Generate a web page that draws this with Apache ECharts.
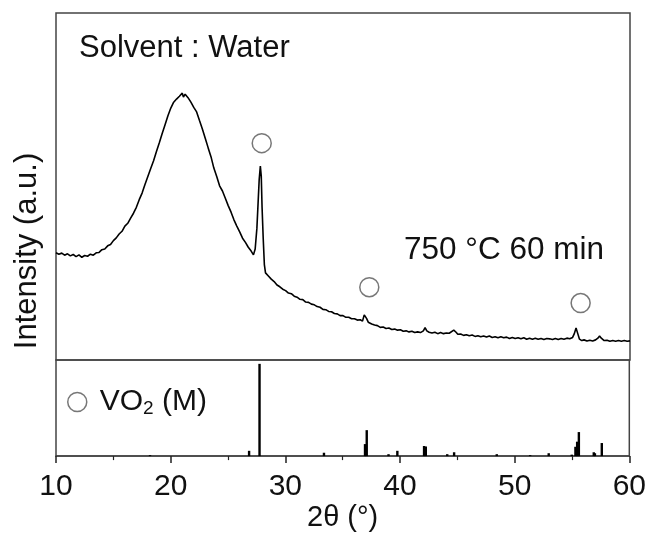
<!DOCTYPE html>
<html>
<head>
<meta charset="utf-8">
<script src="https://cdn.jsdelivr.net/npm/echarts@6/dist/echarts.min.js"></script>
<style>
html,body{margin:0;padding:0;background:#fff;}
#chart{width:649px;height:533px;}
</style>
</head>
<body>
<div id="chart"></div>
<script>
// Measured XRD pattern (2θ in degrees, intensity in arbitrary units)
const twoTheta = [10.0,10.25,10.5,10.75,11.0,11.25,11.5,11.75,12.0,12.25,12.5,12.75,13.0,13.25,13.5,13.75,14.0,14.25,14.5,14.75,
15.0,15.25,15.5,15.75,16.0,16.25,16.5,16.75,17.0,17.25,17.5,17.75,18.0,18.25,18.5,18.75,19.0,19.25,19.5,19.75,
20.0,20.25,20.5,20.75,21.0,21.1,21.25,21.5,21.75,22.0,22.25,22.5,22.75,23.0,23.25,23.5,23.75,24.0,24.25,24.5,24.75,
25.0,25.25,25.5,25.75,26.0,26.25,26.5,26.75,27.0,27.2,27.35,27.5,27.6,27.7,27.8,27.88,27.95,28.05,28.15,28.25,28.5,28.75,
29.0,29.25,29.5,29.75,30.0,30.25,30.5,30.75,31.0,31.25,31.5,31.75,32.0,32.25,32.5,32.75,33.0,33.25,33.5,33.75,
34.0,34.25,34.5,34.75,35.0,35.25,35.5,35.75,36.0,36.25,36.5,36.7,36.85,36.95,37.05,37.2,37.5,37.75,38.0,38.25,38.5,38.75,
39.0,39.25,39.5,39.75,40.0,40.25,40.5,40.75,41.0,41.25,41.5,41.75,42.0,42.15,42.3,42.5,42.75,43.0,43.25,43.5,43.75,
44.0,44.25,44.65,44.85,45.0,45.25,45.5,45.75,46.0,46.25,46.5,46.75,47.0,47.25,47.5,47.75,48.0,48.25,48.5,48.75,
49.0,49.25,49.5,49.75,50.0,50.25,50.5,50.75,51.0,51.25,51.5,51.75,52.0,52.25,52.5,52.75,53.0,53.25,53.5,53.75,
54.0,54.25,54.5,54.75,55.0,55.15,55.3,55.45,55.6,55.8,56.0,56.25,56.5,56.75,57.0,57.2,57.35,57.5,57.75,
58.0,58.25,58.5,58.75,59.0,59.25,59.5,59.75,60.0];
const intensity = [30.9,30.5,30.8,30.2,30.6,30.0,30.4,29.8,30.3,29.6,30.1,29.9,30.5,30.2,30.9,31.0,31.8,32.0,32.9,33.3,
34.4,35.2,36.3,37.1,38.6,39.4,40.9,42.3,44.0,46.2,48.1,50.6,52.9,55.2,57.4,60.1,62.6,65.3,67.8,70.4,
72.6,74.3,75.2,76.0,76.9,75.8,76.6,75.6,74.3,72.8,71.5,69.0,66.6,63.9,61.2,58.6,55.3,52.9,50.2,48.7,46.6,
44.5,42.6,40.4,38.6,36.9,35.1,33.9,32.5,31.4,30.3,32.0,38.0,45.0,52.0,55.9,53.0,44.0,35.0,27.5,25.1,24.2,23.3,
22.6,21.6,21.1,20.4,20.0,19.3,19.1,18.4,18.1,17.5,17.4,16.7,16.6,16.1,15.9,15.4,15.2,14.6,14.5,14.0,
13.9,13.4,13.3,12.8,12.8,12.3,12.3,11.9,11.9,11.5,11.6,11.2,13.0,13.5,12.0,10.9,10.4,10.1,9.9,9.4,9.5,9.1,
9.2,8.8,8.9,8.6,8.7,8.3,8.4,8.1,8.3,7.9,8.1,7.9,8.4,9.3,8.4,8.0,7.8,8.0,7.6,7.9,7.6,
7.8,7.7,8.6,8.0,7.4,7.5,7.1,7.3,7.0,7.2,6.8,7.0,6.7,6.9,6.6,6.9,6.5,6.7,6.4,6.7,
6.4,6.6,6.2,6.5,6.2,6.4,6.1,6.4,6.0,6.3,6.0,6.3,6.0,6.2,5.9,6.2,6.1,5.9,6.2,5.9,
6.2,6.0,6.3,6.1,6.5,7.6,9.2,7.6,6.0,5.6,5.8,5.5,5.7,5.5,5.8,6.3,6.9,6.3,5.6,
5.7,5.4,5.6,5.4,5.6,5.4,5.6,5.4,5.5];

// VO2 (M) peak markers on the measured pattern
const markerTheta = [27.92, 37.29, 55.70];
const markerY = [62.5, 21.0, 16.4];

// VO2 (M) reference pattern (2θ, relative intensity)
const refTheta = [18.2,26.84,27.75,33.37,36.95,37.1,39.0,39.77,42.1,42.25,44.12,44.72,48.44,51.35,52.97,54.98,55.3,55.45,55.6,56.9,57.0,57.6];
const refInt   = [1,5.5,96,3.5,12.5,27,2,5.5,10.5,10,2,4,2,1,3,1.5,9.7,15,25,4,3,13.6];

const xTicks = [10,20,30,40,50,60];
const labelSolvent = 'Solvent : Water';
const labelCond = '750 °C 60 min';

const FONT = 'Liberation Sans, Arial, sans-serif';
const chart = echarts.init(document.getElementById('chart'), null, {renderer:'canvas'});

const lineData = twoTheta.map((t,i)=>[t,intensity[i]]);
const markData = markerTheta.map((t,i)=>[t,markerY[i]]);
const refData = refTheta.map((t,i)=>[t,refInt[i]]);

chart.setOption({
  animation:false,
  backgroundColor:'#fff',
  textStyle:{fontFamily:FONT},
  grid:[
    {left:56,right:19,top:13,height:347,show:true,borderColor:'#444',borderWidth:1.5,backgroundColor:'transparent'},
    {left:56,right:19,top:360,height:103,show:true,borderColor:'#444',borderWidth:1.5,backgroundColor:'transparent'}
  ],
  xAxis:[
    {gridIndex:0,type:'value',min:xTicks[0],max:xTicks[xTicks.length-1],interval:10,show:false},
    {gridIndex:1,type:'value',min:xTicks[0],max:xTicks[xTicks.length-1],interval:10,
      axisLine:{show:true,lineStyle:{color:'#444',width:1.5}},
      axisTick:{show:true,inside:false,length:7,lineStyle:{color:'#222',width:1.5}},
      minorTick:{show:true,splitNumber:2,length:4,lineStyle:{color:'#222',width:1.2}},
      splitLine:{show:false},
      axisLabel:{fontSize:30,color:'#111',margin:16,fontFamily:FONT},
      name:'2θ (°)',nameLocation:'middle',nameGap:46,
      nameTextStyle:{fontSize:29,color:'#111',fontFamily:FONT}
    }
  ],
  yAxis:[
    {gridIndex:0,type:'value',min:0,max:100,show:false},
    {gridIndex:1,type:'value',min:0,max:100,show:false}
  ],
  title:{text:labelSolvent,left:74,top:28,textStyle:{fontSize:31,fontWeight:'normal',color:'#111',fontFamily:FONT}},
  legend:{
    data:['VO2 (M)'],left:62,top:382,icon:'circle',itemWidth:19,itemHeight:19,
    itemStyle:{color:'#fff',borderColor:'#555',borderWidth:1.5},
    formatter:function(){return '{a|VO}{s|2}{a| (M)}';},
    textStyle:{color:'#111',fontFamily:FONT,padding:[0,0,0,8],
      rich:{a:{fontSize:30,color:'#111',fontFamily:FONT},s:{fontSize:19,color:'#111',fontFamily:FONT,padding:[14,0,0,0]}}}
  },
  graphic:[
    {type:'text',left:404,top:234,style:{text:labelCond,fontSize:31.5,fill:'#111',fontFamily:FONT}},
    {type:'text',x:27,y:251,rotation:Math.PI/2,style:{text:'Intensity (a.u.)',fontSize:31,fill:'#111',fontFamily:FONT,align:'center',verticalAlign:'middle'}}
  ],
  series:[
    {type:'line',xAxisIndex:0,yAxisIndex:0,data:lineData,showSymbol:false,symbol:'none',
      lineStyle:{color:'#000',width:1.6},silent:true},
    {name:'VO2 (M)',type:'scatter',xAxisIndex:0,yAxisIndex:0,data:markData,symbol:'circle',symbolSize:19,
      itemStyle:{color:'#fff',borderColor:'#555',borderWidth:1.5}},
    {type:'bar',xAxisIndex:1,yAxisIndex:1,data:refData,barWidth:2.4,itemStyle:{color:'#000'},silent:true}
  ]
});
</script>
</body>
</html>
